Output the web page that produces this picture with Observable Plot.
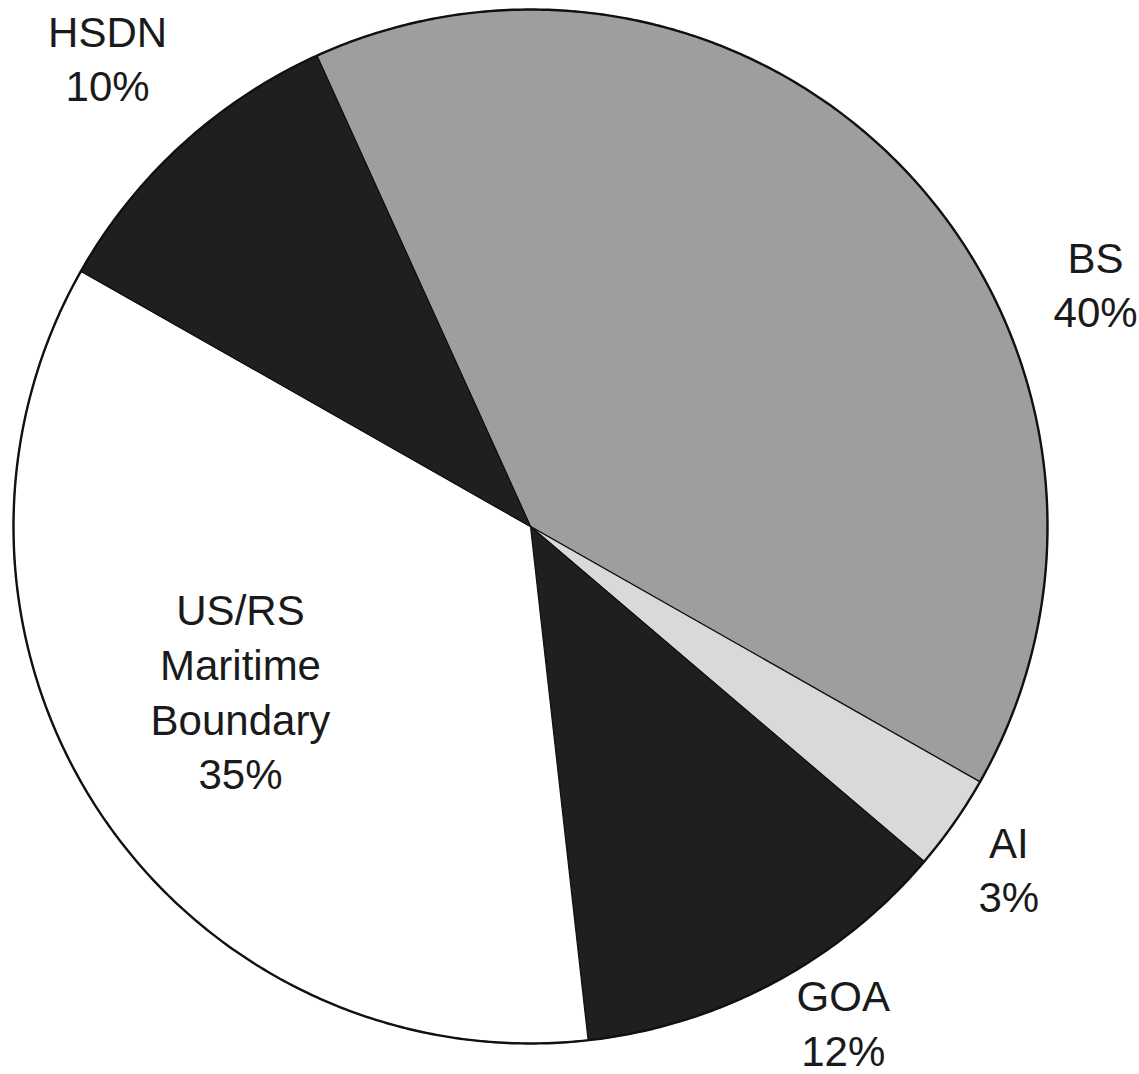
<!DOCTYPE html>
<html>
<head>
<meta charset="utf-8">
<script src="https://cdn.jsdelivr.net/npm/d3@7"></script>
<script src="https://cdn.jsdelivr.net/npm/@observablehq/plot@0.6"></script>
<style>
  html, body { margin: 0; padding: 0; background: #fff; }
  #chart svg { display: block; }
</style>
</head>
<body>
<div id="chart"></div>
<script>
// ---- Data ----
const categories = ["BS", "AI", "GOA", "US/RS\nMaritime\nBoundary", "HSDN"];
const shares = [40, 3, 12, 35, 10];            // percent
const percentLabels = ["40%", "3%", "12%", "35%", "10%"];

// ---- Layout / style (kept apart from data) ----
const sliceColors = ["#9e9e9e", "#d9d9d9", "#1f1f1f", "#ffffff", "#1f1f1f"];
const startAngleDeg = -24.4;                    // first slice boundary, clockwise from 12 o'clock
// label anchor positions in unit-circle coordinates
const labelX = [1.093, 0.925, 0.605, -0.561, -0.818];
const labelY = [0.472, -0.660, -0.957, -0.316, 0.909];

const W = 1139, H = 1074;
const cx = 530, cy = 526, R = 517;

// build slice polygons from the shares via d3.pie
const pie = d3.pie().sort(null).value(d => d.value)
  .startAngle(startAngleDeg * Math.PI / 180)
  .endAngle(startAngleDeg * Math.PI / 180 + 2 * Math.PI);
const arcs = pie(categories.map((c, i) => ({name: c, value: shares[i], i})));

function slicePoints(a) {
  const n = Math.max(8, Math.ceil((a.endAngle - a.startAngle) / (Math.PI / 360)));
  const pts = [{x: 0, y: 0}];
  for (let k = 0; k <= n; k++) {
    const t = a.startAngle + (a.endAngle - a.startAngle) * k / n;
    pts.push({x: Math.sin(t), y: Math.cos(t)});
  }
  pts.push({x: 0, y: 0});
  return pts;
}

const circlePts = d3.range(0, 721).map(k => {
  const t = k / 720 * 2 * Math.PI;
  return {x: Math.sin(t), y: Math.cos(t)};
});

const labels = categories.map((c, i) => ({
  text: c + "\n" + percentLabels[i],
  x: labelX[i],
  y: labelY[i]
}));

const marks = [
  ...arcs.map(a => Plot.line(slicePoints(a), {
    x: "x", y: "y",
    fill: sliceColors[a.data.i],
    stroke: "#111",
    strokeWidth: 1.2,
    strokeLinejoin: "round"
  })),
  Plot.line(circlePts, {x: "x", y: "y", stroke: "#111", strokeWidth: 2.4, fill: "none"}),
  Plot.text(labels, {
    x: "x", y: "y", text: "text",
    fontSize: 42,
    lineHeight: 1.3,
    textAnchor: "middle",
    fill: "#1a1a1a",
    fontFamily: "Liberation Sans, Arial, sans-serif"
  })
];

const chart = Plot.plot({
  width: W,
  height: H,
  margin: 0,
  x: {domain: [-1, 1], range: [cx - R, cx + R], axis: null},
  y: {domain: [-1, 1], range: [cy + R, cy - R], axis: null},
  style: {background: "#fff", overflow: "visible"},
  marks
});
document.getElementById("chart").appendChild(chart);
</script>
</body>
</html>
